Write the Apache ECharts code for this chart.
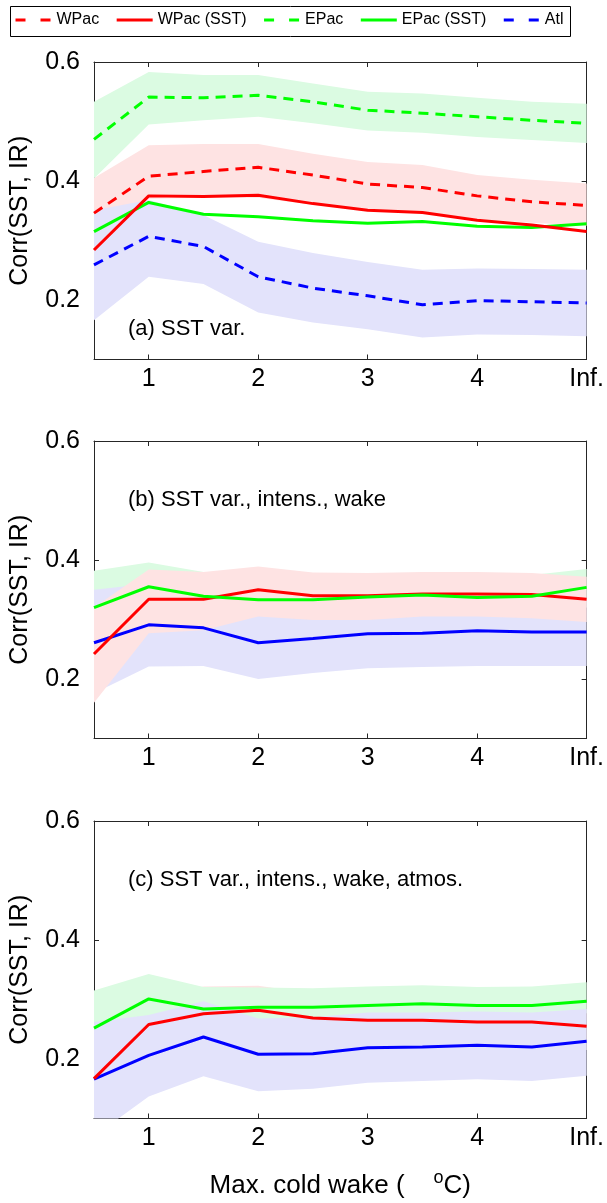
<!DOCTYPE html>
<html>
<head>
<meta charset="utf-8">
<script src="https://cdn.jsdelivr.net/npm/echarts@6/dist/echarts.min.js"></script>
<style>html,body{margin:0;padding:0;background:#fff}#c{width:607px;height:1203px}</style>
</head>
<body>
<div id="c"></div>
<script>
// ---------- data ----------
const xCats = ['0.5','1','1.5','2','2.5','3','3.5','4','4.5','Inf.'];
const xTickLabels = {'1':'1','2':'2','3':'3','4':'4','Inf.':'Inf.'};
const yTicks = [0.2, 0.4, 0.6];
const legendNames = ['WPac','WPac (SST)','EPac','EPac (SST)','Atl'];
const legendDashed = [true, false, true, false, true];
const panelLabels = ['(a) SST var.', '(b) SST var., intens., wake', '(c) SST var., intens., wake, atmos.'];

// panel (a)
const wpacA      = [0.346,0.408,0.416,0.423,0.410,0.395,0.389,0.375,0.365,0.359];
const wpacAUp    = [0.405,0.460,0.462,0.462,0.446,0.432,0.427,0.410,0.402,0.396];
const wpacALo    = [0.290,0.370,0.372,0.372,0.360,0.352,0.347,0.336,0.330,0.325];
const wpacSstA   = [0.284,0.375,0.374,0.376,0.362,0.351,0.347,0.334,0.326,0.315];
const epacA      = [0.470,0.541,0.540,0.544,0.533,0.519,0.514,0.508,0.502,0.497];
const epacAUp    = [0.533,0.583,0.578,0.578,0.564,0.550,0.547,0.540,0.533,0.530];
const epacALo    = [0.404,0.495,0.502,0.508,0.497,0.485,0.481,0.474,0.469,0.464];
const epacSstA   = [0.315,0.364,0.344,0.340,0.333,0.329,0.332,0.324,0.322,0.328];
const atlA       = [0.259,0.307,0.290,0.239,0.220,0.207,0.192,0.199,0.197,0.195];
const atlAUp     = [0.351,0.368,0.343,0.298,0.279,0.264,0.251,0.253,0.252,0.251];
const atlALo     = [0.166,0.239,0.227,0.179,0.162,0.151,0.137,0.142,0.141,0.139];

// panel (b)
const wpacSstB   = [0.242,0.334,0.334,0.350,0.340,0.340,0.343,0.343,0.342,0.334];
const wpacBUp    = [0.320,0.384,0.380,0.389,0.379,0.378,0.380,0.380,0.378,0.372];
const wpacBLo    = [0.160,0.277,0.282,0.305,0.299,0.299,0.305,0.305,0.302,0.296];
const epacSstB   = [0.320,0.355,0.339,0.333,0.333,0.338,0.341,0.337,0.339,0.354];
const epacBUp    = [0.382,0.396,0.380,0.375,0.372,0.376,0.378,0.375,0.375,0.385];
const epacBLo    = [0.260,0.310,0.300,0.290,0.290,0.300,0.300,0.300,0.300,0.320];
const atlSstB    = [0.261,0.291,0.286,0.261,0.268,0.276,0.277,0.281,0.279,0.279];
const atlBUp     = [0.350,0.360,0.350,0.320,0.326,0.334,0.334,0.340,0.336,0.336];
const atlBLo     = [0.176,0.221,0.222,0.200,0.210,0.218,0.220,0.222,0.222,0.222];

// panel (c)
const wpacSstC   = [0.167,0.258,0.276,0.282,0.269,0.265,0.265,0.262,0.262,0.255];
const wpacCUp    = [0.220,0.300,0.322,0.323,0.310,0.305,0.305,0.300,0.300,0.295];
const wpacCLo    = [0.120,0.220,0.235,0.240,0.228,0.225,0.225,0.222,0.222,0.215];
const epacSstC   = [0.252,0.301,0.284,0.287,0.287,0.290,0.293,0.290,0.290,0.297];
const epacCUp    = [0.315,0.343,0.321,0.320,0.319,0.322,0.324,0.321,0.322,0.329];
const epacCLo    = [0.200,0.274,0.270,0.267,0.266,0.269,0.275,0.273,0.275,0.277];
const atlSstC    = [0.166,0.206,0.237,0.208,0.209,0.219,0.220,0.223,0.220,0.230];
const atlCUp     = [0.262,0.274,0.297,0.268,0.270,0.278,0.278,0.280,0.278,0.284];
const atlCLo     = [0.070,0.137,0.171,0.146,0.150,0.160,0.163,0.166,0.163,0.172];

// ---------- styles ----------
const FONT = 'Liberation Sans, Arial, Helvetica, sans-serif';
const RED = '#ff0000', GREEN = '#00ff00', BLUE = '#0000ff';
const RED_F = '#fee3e3', GREEN_F = '#dbfbe2', BLUE_F = '#e3e3fb';
const AX = '#262626';
const grids = [
  {left: 91.5, right: 11.5, top: 62, height: 297.5},
  {left: 91.5, right: 11.5, top: 441, height: 297.5},
  {left: 91.5, right: 11.5, top: 821, height: 297.5}
];

function tickIdx(i){ return i % 2 === 1; }

const xAxes = [], yAxes = [];
grids.forEach((g, gi) => {
  xAxes.push({
    type: 'category', gridIndex: gi, data: xCats, boundaryGap: false, position: 'bottom',
    axisLine: {lineStyle: {color: AX, width: 1}},
    axisTick: {inside: true, length: 5, interval: (i) => tickIdx(i), lineStyle: {color: AX}},
    axisLabel: {interval: (i) => tickIdx(i), formatter: (v) => xTickLabels[v] || '', color: '#000',
      fontSize: 25, fontFamily: FONT, margin: 7},
    splitLine: {show: false},
    name: gi === 2 ? 'Max. cold wake (    {sup|o}C)' : '',
    nameLocation: 'middle', nameGap: 51,
    nameTextStyle: {color: '#000', fontSize: 26, fontFamily: FONT,
      rich: {sup: {fontSize: 18, fontFamily: FONT, color: '#000', padding: [0,0,15,0]}}}
  });
  xAxes.push({
    type: 'category', gridIndex: gi, data: xCats, boundaryGap: false, position: 'top',
    axisLine: {lineStyle: {color: AX, width: 1}},
    axisTick: {inside: true, length: 5, interval: (i) => tickIdx(i), lineStyle: {color: AX}},
    axisLabel: {show: false}, splitLine: {show: false}
  });
  yAxes.push({
    type: 'value', gridIndex: gi, min: 0.1, max: 0.6, position: 'left',
    axisLine: {show: true, lineStyle: {color: AX, width: 1}},
    axisTick: {show: true, inside: true, length: 5, customValues: yTicks, lineStyle: {color: AX}},
    axisLabel: {customValues: yTicks, formatter: (v) => v.toFixed(1), color: '#000',
      fontSize: 25, fontFamily: FONT, margin: 14},
    splitLine: {show: false},
    name: 'Corr(SST, IR)', nameLocation: 'middle', nameGap: 61,
    nameTextStyle: {color: '#000', fontSize: 25, fontFamily: FONT}
  });
  yAxes.push({
    type: 'value', gridIndex: gi, min: 0.1, max: 0.6, position: 'right',
    axisLine: {show: true, lineStyle: {color: AX, width: 1}},
    axisTick: {show: true, inside: true, length: 5, customValues: yTicks, lineStyle: {color: AX}},
    axisLabel: {show: false}, splitLine: {show: false}
  });
});

const series = [];
function band(id, lo, up, color, gi){
  const stack = 'band_' + id;
  series.push({
    name: id + '_lo', type: 'line', xAxisIndex: 2*gi, yAxisIndex: 2*gi, stack: stack,
    data: lo, symbol: 'none', silent: true, lineStyle: {width: 0, opacity: 0}, z: 1
  });
  series.push({
    name: id + '_band', type: 'line', xAxisIndex: 2*gi, yAxisIndex: 2*gi, stack: stack,
    data: up.map((u, i) => +(u - lo[i]).toFixed(4)), symbol: 'none', silent: true,
    lineStyle: {width: 0, opacity: 0}, areaStyle: {color: color, opacity: 1}, z: 1
  });
}
function line(name, data, color, dashed, gi){
  series.push({
    name: name, type: 'line', xAxisIndex: 2*gi, yAxisIndex: 2*gi, data: data,
    symbol: 'none', itemStyle: {color: color},
    lineStyle: {color: color, width: 3, type: dashed ? [10, 7] : 'solid'}, z: 3
  });
}

// panel (a)
band('wa', wpacALo, wpacAUp, RED_F, 0);
band('ea', epacALo, epacAUp, GREEN_F, 0);
band('aa', atlALo, atlAUp, BLUE_F, 0);
line('EPac (SST)', epacSstA, GREEN, false, 0);
line('WPac (SST)', wpacSstA, RED, false, 0);
line('EPac', epacA, GREEN, true, 0);
line('WPac', wpacA, RED, true, 0);
line('Atl', atlA, BLUE, true, 0);

// panel (b)
band('eb', epacBLo, epacBUp, GREEN_F, 1);
band('ab', atlBLo, atlBUp, BLUE_F, 1);
band('wb', wpacBLo, wpacBUp, RED_F, 1);
line('Atl (SST) b', atlSstB, BLUE, false, 1);
line('WPac (SST) b', wpacSstB, RED, false, 1);
line('EPac (SST) b', epacSstB, GREEN, false, 1);

// panel (c)
band('wc', wpacCLo, wpacCUp, RED_F, 2);
band('ec', epacCLo, epacCUp, GREEN_F, 2);
band('ac', atlCLo, atlCUp, BLUE_F, 2);
line('Atl (SST) c', atlSstC, BLUE, false, 2);
line('WPac (SST) c', wpacSstC, RED, false, 2);
line('EPac (SST) c', epacSstC, GREEN, false, 2);

const labelY = [330, 501, 881];
const graphics = [
  {type: 'rect', left: 8, top: 4, shape: {width: 560, height: 30},
   style: {fill: 'none', stroke: '#000', lineWidth: 1}, silent: true}
];
panelLabels.forEach((t, i) => graphics.push({
  type: 'text', left: 128, top: labelY[i] - 12, silent: true,
  style: {text: t, fill: '#000', fontSize: 22, fontFamily: FONT}
}));

const chart = echarts.init(document.getElementById('c'), null, {renderer: 'canvas'});
chart.setOption({
  animation: false,
  backgroundColor: '#fff',
  legend: {
    data: legendNames.map((n, i) => ({
      name: n,
      lineStyle: {width: 3, type: legendDashed[i] ? [10, 15] : 'solid'}
    })),
    left: 14, top: 12, padding: 0,
    itemWidth: 36, itemHeight: 14, itemGap: 16,
    itemStyle: {opacity: 0},
    textStyle: {fontSize: 16, fontFamily: FONT, color: '#000'},
    selectedMode: false
  },
  grid: grids,
  xAxis: xAxes,
  yAxis: yAxes,
  series: series,
  graphic: graphics
});
</script>
</body>
</html>
